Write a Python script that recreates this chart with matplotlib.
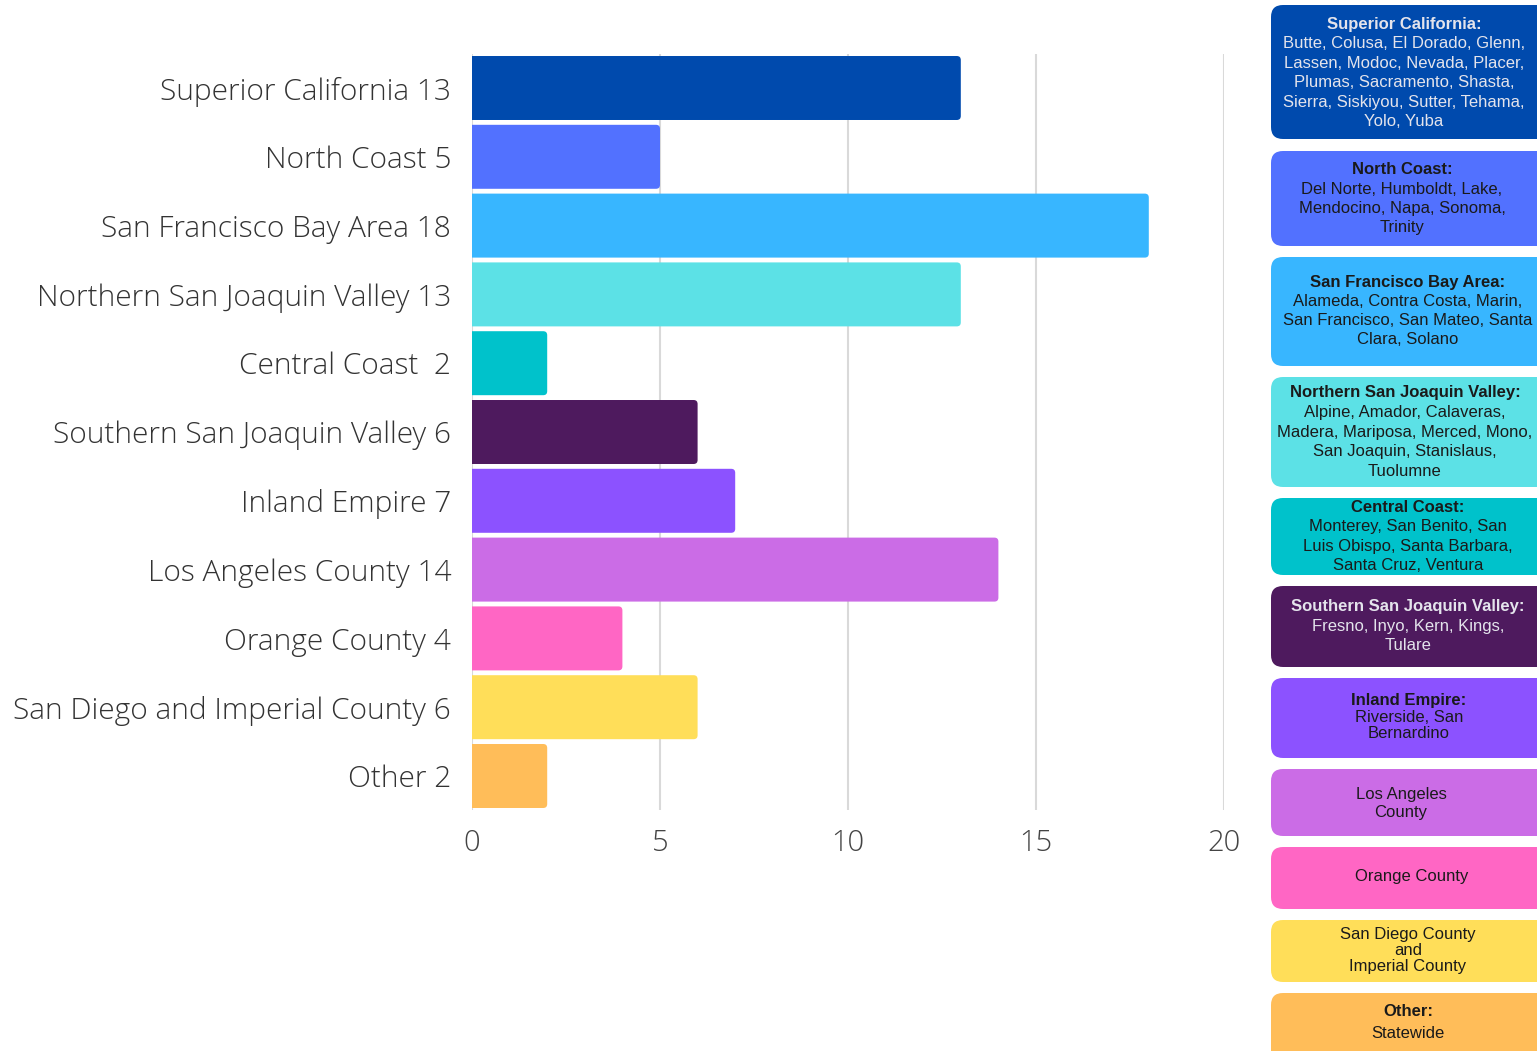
import matplotlib
matplotlib.use("Agg")
import matplotlib.pyplot as plt
from matplotlib.patches import FancyBboxPatch

# ---------------- data ----------------
regions = ["Superior California", "North Coast", "San Francisco Bay Area",
           "Northern San Joaquin Valley", "Central Coast", "Southern San Joaquin Valley",
           "Inland Empire", "Los Angeles County", "Orange County",
           "San Diego and Imperial County", "Other"]
values = [13, 5, 18, 13, 2, 6, 7, 14, 4, 6, 2]
tick_labels = ["Superior California 13", "North Coast 5", "San Francisco Bay Area 18",
               "Northern San Joaquin Valley 13", "Central Coast  2",
               "Southern San Joaquin Valley 6", "Inland Empire 7", "Los Angeles County 14",
               "Orange County 4", "San Diego and Imperial County 6", "Other 2"]
colors = ["#004aad", "#5271ff", "#38b6ff", "#5ce1e6", "#00c2cb", "#4e1a5e",
          "#8c52ff", "#cb6ce6", "#ff66c4", "#ffde59", "#ffbd59"]
x_ticks = [0, 5, 10, 15, 20]

legend_titles = ["Superior California:", "North Coast:", "San Francisco Bay Area:",
                 "Northern San Joaquin Valley:", "Central Coast:",
                 "Southern San Joaquin Valley:", "Inland Empire:", "", "", "", "Other:"]
legend_bodies = [
    ["Butte, Colusa, El Dorado, Glenn,", "Lassen, Modoc, Nevada, Placer,",
     "Plumas, Sacramento, Shasta,", "Sierra, Siskiyou, Sutter, Tehama,", "Yolo, Yuba"],
    ["Del Norte, Humboldt, Lake,", "Mendocino, Napa, Sonoma,", "Trinity"],
    ["Alameda, Contra Costa, Marin,", "San Francisco, San Mateo, Santa", "Clara, Solano"],
    ["Alpine, Amador, Calaveras,", "Madera, Mariposa, Merced, Mono,",
     "San Joaquin, Stanislaus,", "Tuolumne"],
    ["Monterey, San Benito, San", "Luis Obispo, Santa Barbara,", "Santa Cruz, Ventura"],
    ["Fresno, Inyo, Kern, Kings,", "Tulare"],
    ["Riverside, San", "Bernardino"],
    ["Los Angeles", "County"],
    ["Orange County"],
    ["San Diego County", "and", "Imperial County"],
    ["Statewide"],
]
legend_light_text = [True, False, False, False, False, True, False, False, False, False, False]

# ---------------- layout (pixels) ----------------
W, H = 1537, 1051
# box top, box bottom, first line center, line spacing, text center x
box_layout = [
    (5, 139, 24, 19.5, 1404),
    (151, 246, 170, 19.2, 1402),
    (257, 366, 282, 19.3, 1408),
    (377, 487, 393, 19.6, 1405),
    (498, 575, 507, 19.6, 1408),
    (586, 667, 607, 19.5, 1408),
    (678, 758, 701, 16.5, 1409),
    (769, 836, 795, 17.0, 1401),
    (847, 909, 877, 19.0, 1412),
    (920, 982, 934, 16.5, 1408),
    (993, 1070, 1011, 23.0, 1408),
]

fig = plt.figure(figsize=(W / 100, H / 100), dpi=100)

# main bar axes: x 0..20 maps to pixel 472..1224
left_px, right_px = 472, 1224
top_px, bot_px = 53.6, 810.4
ax = fig.add_axes([left_px / W, 1 - bot_px / H, (right_px - left_px) / W, (bot_px - top_px) / H])
ypos = list(range(len(values)))
bars = ax.barh(ypos, values, height=0.93, color=colors, zorder=3)
# round the corners of each bar (pixel-consistent rounding)
px_x = 20 / (right_px - left_px)
px_y = (len(values)) / (bot_px - top_px)
for b in bars:
    x0, y0 = b.get_x(), b.get_y()
    w, h = b.get_width(), b.get_height()
    b.set_visible(False)
    fb = FancyBboxPatch((x0 - 6 * px_x, y0), w + 6 * px_x, h,
                        boxstyle="round,pad=0,rounding_size=%f" % (4 * px_x),
                        mutation_aspect=px_y / px_x,
                        facecolor=b.get_facecolor(), edgecolor="none", zorder=3,
                        clip_on=True)
    ax.add_patch(fb)
ax.set_xlim(0, 20)
ax.set_ylim(len(values) - 0.5, -0.5)
ax.set_xticks(x_ticks)
ax.set_xticklabels([str(t) for t in x_ticks])
ax.set_yticks(ypos)
ax.set_yticklabels(tick_labels)
for lab in ax.get_yticklabels():
    lab.set_fontfamily("Open Sans")
    lab.set_fontsize(21.5)
    lab.set_fontweight(300)
    lab.set_color("#333333")
for lab in ax.get_xticklabels():
    lab.set_fontfamily("Open Sans")
    lab.set_fontsize(21)
    lab.set_fontweight(300)
    lab.set_color("#444444")
ax.tick_params(axis="y", length=0, pad=15)
ax.tick_params(axis="x", length=0, pad=13)
ax.grid(axis="x", color="#d9d9d9", linewidth=1.5, zorder=0)
for s in ax.spines.values():
    s.set_visible(False)

# overlay axes for legend boxes (pixel coordinates)
ov = fig.add_axes([0, 0, 1, 1])
ov.set_xlim(0, W)
ov.set_ylim(H, 0)
ov.axis("off")

for i, (top, bot, y0, sp, cx) in enumerate(box_layout):
    box = FancyBboxPatch((1271, top), 320, bot - top,
                         boxstyle="round,pad=0,rounding_size=12",
                         facecolor=colors[i], edgecolor="none")
    ov.add_patch(box)
    tc = "#e4e4ec" if legend_light_text[i] else "#1a1a1a"
    y = y0
    if legend_titles[i]:
        ov.text(cx, y, legend_titles[i], ha="center", va="center", fontsize=12,
                fontweight="bold", color=tc, family="Liberation Sans")
        y += sp
    for line in legend_bodies[i]:
        ov.text(cx, y, line, ha="center", va="center", fontsize=12,
                color=tc, family="Liberation Sans")
        y += sp

fig.savefig("out.png", dpi=100, facecolor="white")
